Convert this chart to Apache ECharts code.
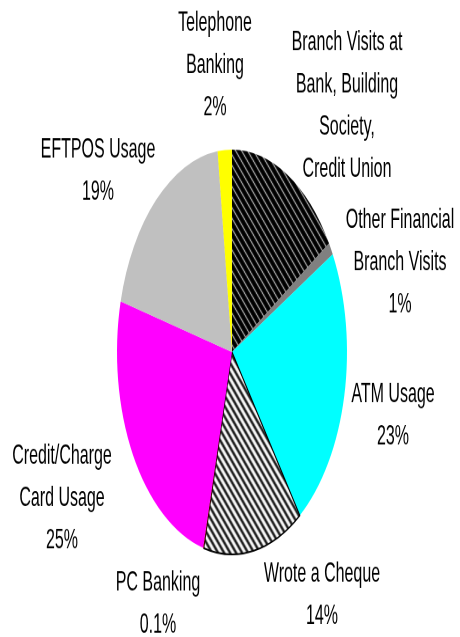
<!DOCTYPE html>
<html>
<head>
<meta charset="utf-8">
<script src="https://cdn.jsdelivr.net/npm/echarts@6/dist/echarts.min.js"></script>
<style>
  html, body { margin: 0; padding: 0; background: #fff; overflow: hidden; }
  #wrap { width: 460px; height: 637px; overflow: hidden; }
  /* the original picture is stretched tall, so the chart is drawn flat and scaled */
  #chart { width: 460px; height: 362px; transform: scaleY(1.76); transform-origin: 0 0; }
</style>
</head>
<body>
<div id="wrap"><div id="chart"></div></div>
<script>
// slices, clockwise from 12 o'clock
const names = [
  'Branch Visits at\nBank, Building\nSociety,\nCredit Union',
  'Other Financial\nBranch Visits',
  'ATM Usage',
  'Wrote a Cheque',
  'PC Banking',
  'Credit/Charge\nCard Usage',
  'EFTPOS Usage',
  'Telephone\nBanking'
];
const values = [16, 1, 23, 14, 0.1, 25, 19, 2];
const showPct = [false, true, true, true, true, true, true, true];
const colours = ['hatchDark', '#808080', '#00ffff', 'hatchLight', '#800000', '#ff00ff', '#c0c0c0', '#ffff00'];

// label centres (unscaled px)
const labelPos = [
  [347, 60], [400, 149], [393, 236], [322, 338],
  [158, 343], [62, 283], [98, 97], [215, 37]
];

function makeHatch(bg, fg, lw) {
  const c = document.createElement('canvas');
  c.width = 6; c.height = 6;
  const g = c.getContext('2d');
  g.fillStyle = bg;
  g.fillRect(0, 0, 6, 6);
  g.strokeStyle = fg;
  g.lineWidth = lw;
  g.beginPath();
  g.moveTo(-1, -1); g.lineTo(7, 7);
  g.moveTo(-4, 2); g.lineTo(2, 8);
  g.moveTo(2, -4); g.lineTo(8, 2);
  g.stroke();
  return { image: c, repeat: 'repeat' };
}

const fills = {
  hatchDark: makeHatch('#000', '#fff', 0.9),
  hatchLight: makeHatch('#fff', '#000', 1.8)
};

const data = names.map((n, i) => ({
  name: n,
  value: values[i],
  itemStyle: {
    color: fills[colours[i]] || colours[i],
    borderColor: colours[i] === 'hatchLight' ? '#000' : 'transparent',
    borderWidth: colours[i] === 'hatchLight' ? 1 : 0
  }
}));

const chart = echarts.init(document.getElementById('chart'), null, { devicePixelRatio: 2 });
chart.setOption({
  animation: false,
  series: [{
    type: 'pie',
    center: [232, 200],
    radius: 115,
    startAngle: 90,
    clockwise: true,
    avoidLabelOverlap: false,
    emphasis: { disabled: true },
    label: {
      show: true,
      position: 'outside',
      color: '#000',
      fontFamily: '"Liberation Sans", Arial, sans-serif',
      fontSize: 16,
      lineHeight: 24,
      align: 'center',
      formatter: p => showPct[p.dataIndex] ? p.name + '\n' + p.value + '%' : p.name
    },
    labelLine: { show: false },
    labelLayout: p => ({
      x: labelPos[p.dataIndex][0],
      y: labelPos[p.dataIndex][1],
      align: 'center',
      verticalAlign: 'middle'
    }),
    data: data
  }]
});
</script>
</body>
</html>
